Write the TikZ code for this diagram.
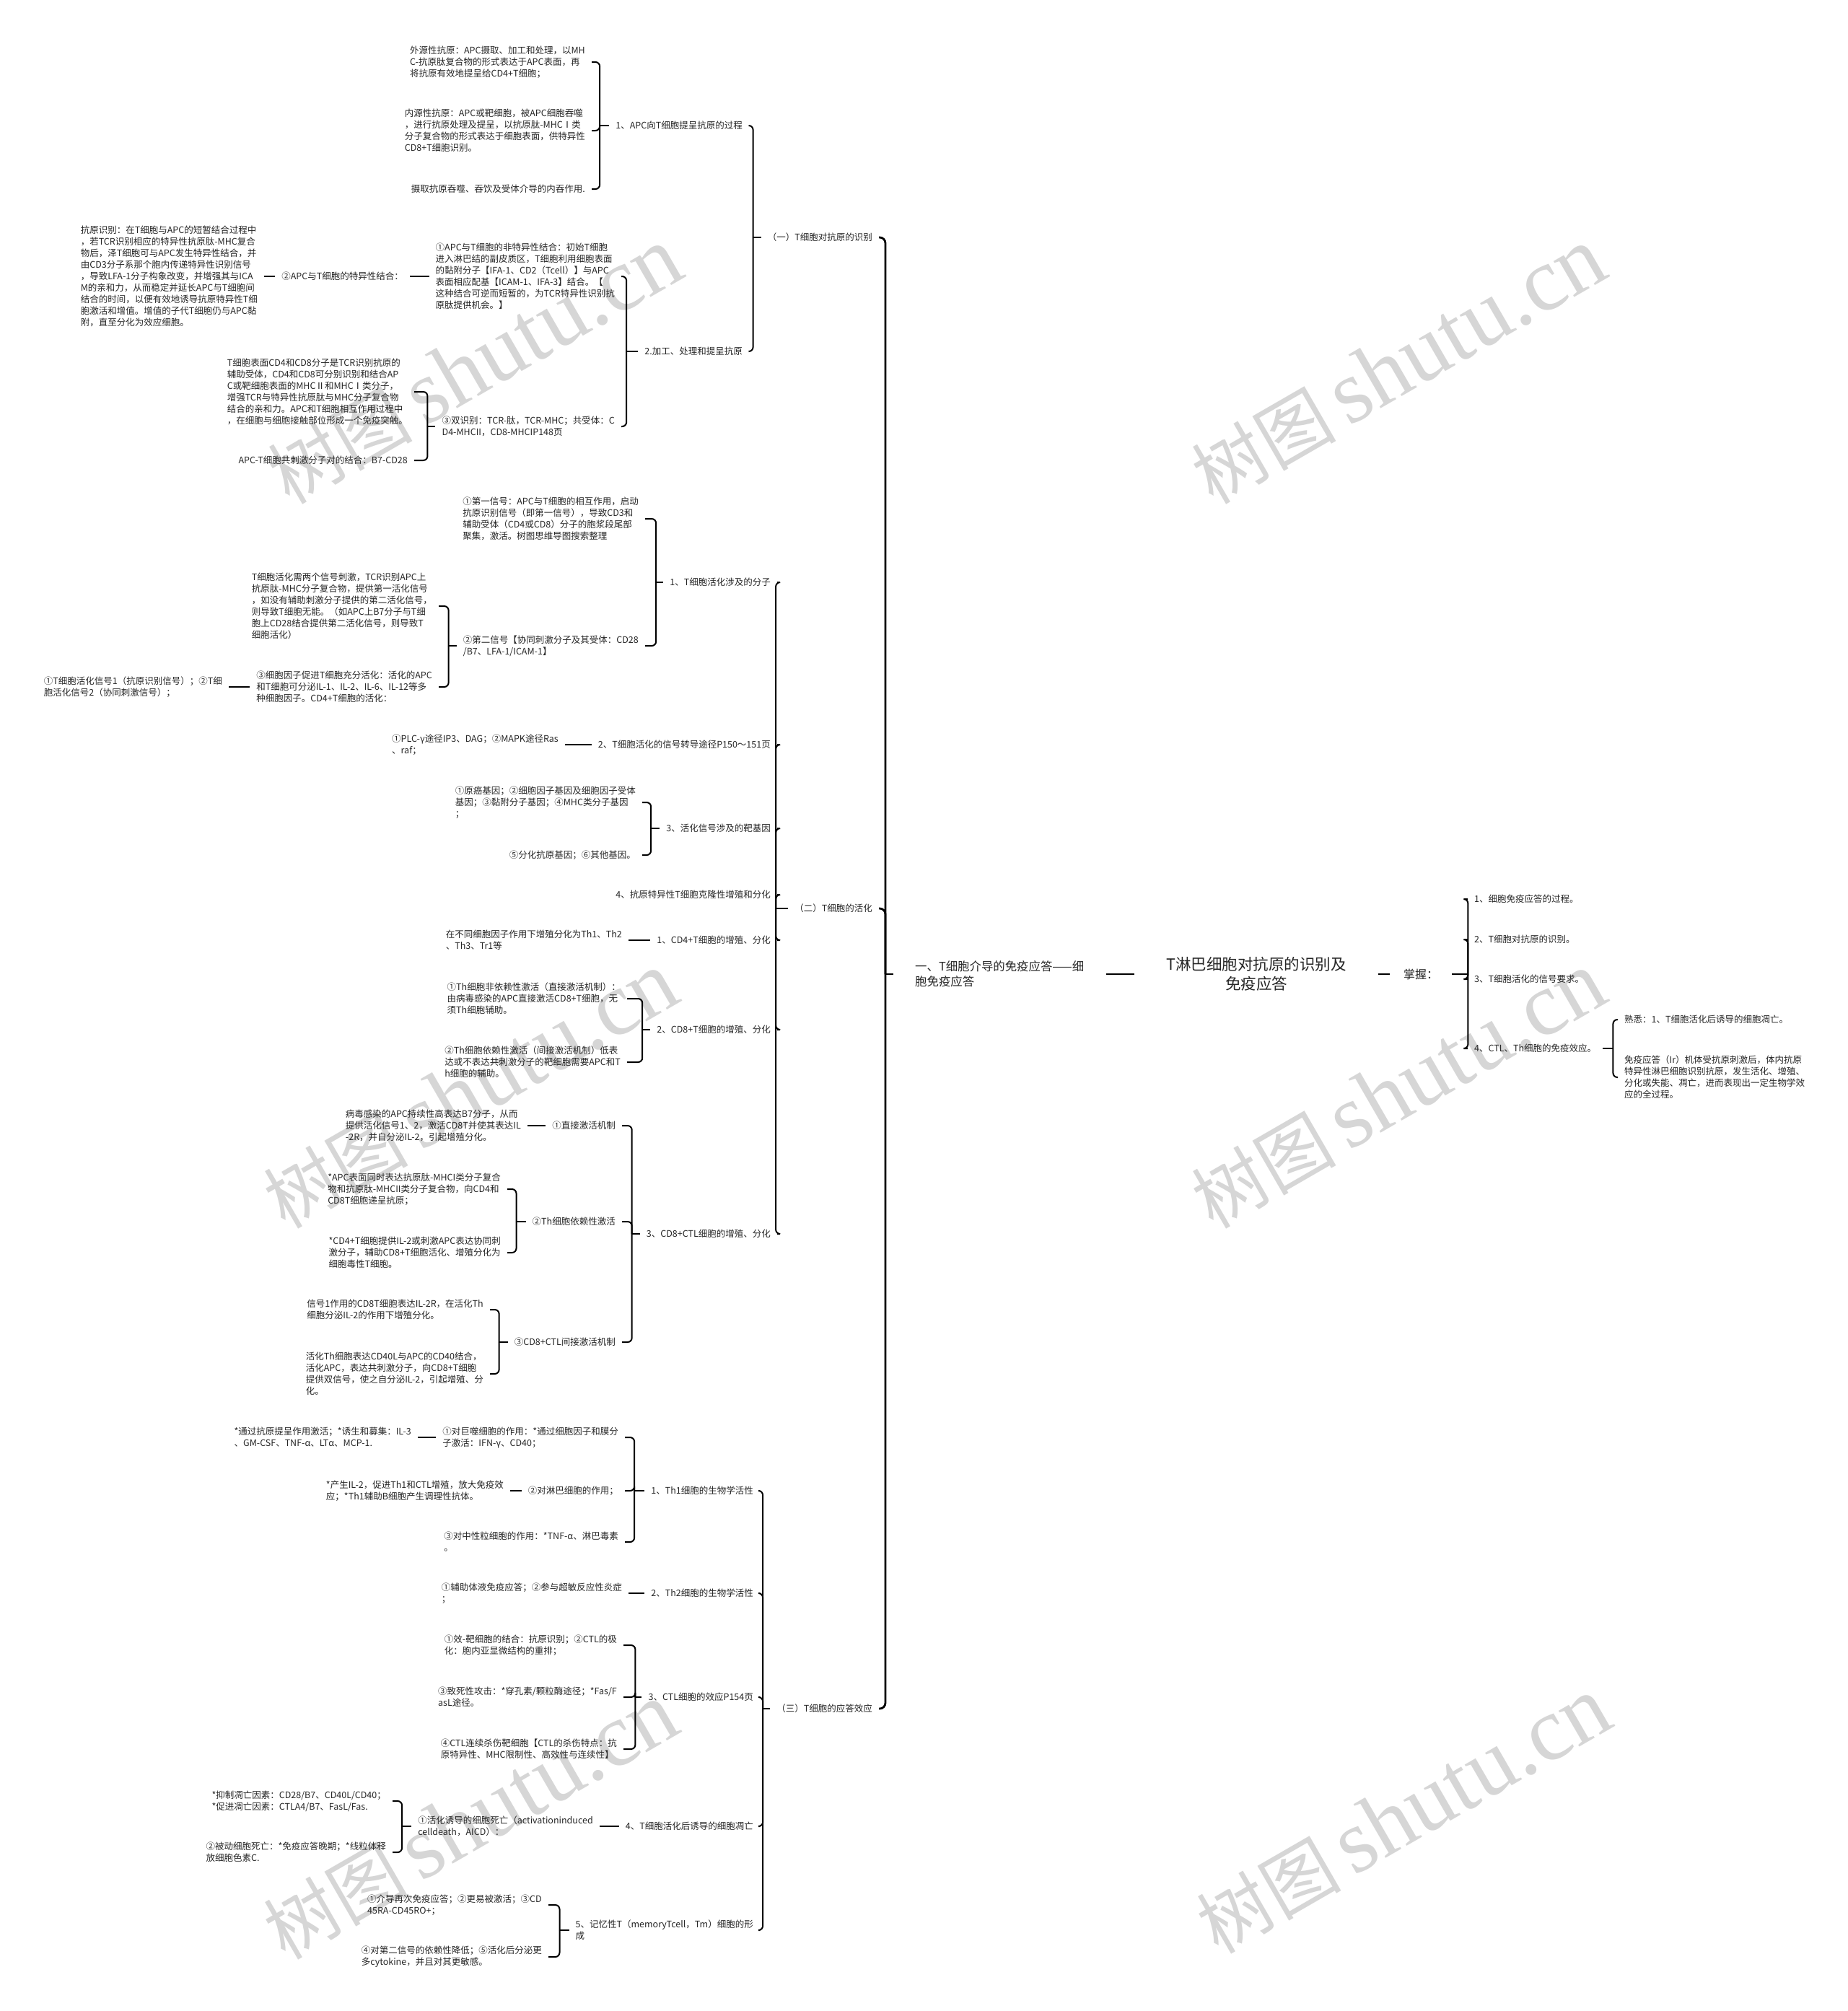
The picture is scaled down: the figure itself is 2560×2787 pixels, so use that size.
\documentclass[tikz,border=0pt]{standalone}
\usepackage{fontspec}
\setmainfont{Noto Sans CJK SC}
\newfontfamily\wmlat{Liberation Serif}
\newcommand{\lk}[3]{\draw[link] (#1.east) -| ([xshift=-#3pt]#2.west); \draw[link] ([xshift=-#3pt]#2.west) -- (#2.west);}
\newcommand{\sk}[2]{\draw[link] (#1.east) -- (#1.east -| #2.west);}
\newcommand{\rk}[3]{\draw[link] (#1.west) -| ([xshift=#3pt]#2.east); \draw[link] ([xshift=#3pt]#2.east) -- (#2.east);}
\newcommand{\mk}[3]{\draw[mainlink] (#1.east) -| ([xshift=-#3pt]#2.west); \draw[mainlink] ([xshift=-#3pt]#2.west) -- (#2.west);}
\newcommand{\wmtext}{\fontsize{100}{100}\selectfont 树图\,{\wmlat\fontsize{125}{125}\selectfont shutu.cn}}
\begin{document}
\begin{tikzpicture}[x=1pt,y=-1pt,
  t/.style={font=\fontsize{12.5}{16}\selectfont, align=left, inner xsep=9pt, inner ysep=1pt, anchor=east, text=black!85},
  tl/.style={t, anchor=west},
  link/.style={line width=2pt, rounded corners=6pt},
  mainlink/.style={line width=2.8pt, rounded corners=8pt},
  wm/.style={rotate=30, text=black!16, inner sep=0pt},
]
\useasboundingbox (0,0) rectangle (2560,2787);
\fill[white] (0,0) rectangle (2560,2787);
% watermarks
\node[wm] (w1) at (658,507) {\wmtext};
\node[wm] (w2) at (1938,507) {\wmtext};
\node[wm] (w3) at (652,1511) {\wmtext};
\node[wm] (w4) at (1938,1511) {\wmtext};
\node[wm] (w5) at (652,2524) {\wmtext};
\node[wm] (w6) at (1945,2516) {\wmtext};

% root and right side
\node[font=\fontsize{21.5}{27}\selectfont, align=center, inner xsep=44pt, text=black!85] (R) at (1741,1350) {T淋巴细胞对抗原的识别及\\免疫应答};
\node[font=\fontsize{16.4}{21}\selectfont, align=left, inner xsep=30pt, anchor=west, text=black!85] (Y) at (1238,1350) {一、T细胞介导的免疫应答——细\\胞免疫应答};
\node[font=\fontsize{16}{20}\selectfont, inner xsep=19pt, anchor=west, text=black!85] (Z) at (1926,1350) {掌握：};
\draw[link] (Y.east) -- (R.west);
\draw[link] (R.east) -- (Z.west);

\node[tl] (R1) at (2034,1246) {1、细胞免疫应答的过程。};
\node[tl] (R2) at (2034,1302) {2、T细胞对抗原的识别。};
\node[tl] (R3) at (2034,1357) {3、T细胞活化的信号要求。};
\node[tl] (R4) at (2034,1453) {4、CTL、Th细胞的免疫效应。};
\node[tl] (R4a) at (2242,1413) {熟悉：1、T细胞活化后诱导的细胞凋亡。};
\node[tl] (R4b) at (2242,1493) {免疫应答（Ir）机体受抗原刺激后，体内抗原\\特异性淋巴细胞识别抗原，发生活化、增殖、\\分化或失能、凋亡，进而表现出一定生物学效\\应的全过程。};
\rk{R1}{Z}{22} \rk{R2}{Z}{22} \rk{R3}{Z}{22} \rk{R4}{Z}{22}
\rk{R4a}{R4}{14} \rk{R4b}{R4}{14}

% level 1
\node[t] (N1) at (1218,329) {（一）T细胞对抗原的识别};
\node[t] (N2) at (1218,1259) {（二）T细胞的活化};
\node[t] (N3) at (1218,2368) {（三）T细胞的应答效应};
\mk{N1}{Y}{11} \mk{N2}{Y}{11} \mk{N3}{Y}{11}

% (一)
\node[t] (A1) at (1038,174) {1、APC向T细胞提呈抗原的过程};
\node[t] (A2) at (1038,487) {2.加工、处理和提呈抗原};
\lk{A1}{N1}{11} \lk{A2}{N1}{11}
\node[t] (A1a) at (820,86) {外源性抗原：APC摄取、加工和处理，以MH\\C-抗原肽复合物的形式表达于APC表面，再\\将抗原有效地提呈给CD4+T细胞；};
\node[t] (A1b) at (820,181) {内源性抗原：APC或靶细胞，被APC细胞吞噬\\，进行抗原处理及提呈，以抗原肽-MHCⅠ类\\分子复合物的形式表达于细胞表面，供特异性\\CD8+T细胞识别。};
\node[t] (A1c) at (820,262) {摄取抗原吞噬、吞饮及受体介导的内吞作用.};
\lk{A1a}{A1}{13} \lk{A1b}{A1}{13} \lk{A1c}{A1}{13}
\node[t] (A2a) at (861,383) {①APC与T细胞的非特异性结合：初始T细胞\\进入淋巴结的副皮质区，T细胞利用细胞表面\\的黏附分子【IFA-1、CD2（Tcell）】与APC\\表面相应配基【ICAM-1、IFA-3】结合。【\\这种结合可逆而短暂的，为TCR特异性识别抗\\原肽提供机会。】};
\node[t] (A2b) at (861,591) {③双识别：TCR-肽，TCR-MHC；共受体：C\\D4-MHCII，CD8-MHCIP148页};
\lk{A2a}{A2}{16} \lk{A2b}{A2}{16}
\node[t] (A2a1) at (568,383) {②APC与T细胞的特异性结合：};
\sk{A2a1}{A2a}
\node[t] (A2a1a) at (366,383) {抗原识别：在T细胞与APC的短暂结合过程中\\，若TCR识别相应的特异性抗原肽-MHC复合\\物后，泽T细胞可与APC发生特异性结合，并\\由CD3分子系那个胞内传递特异性识别信号\\，导致LFA-1分子构象改变，并增强其与ICA\\M的亲和力，从而稳定并延长APC与T细胞间\\结合的时间，以便有效地诱导抗原特异性T细\\胞激活和增值。增值的子代T细胞仍与APC黏\\附，直至分化为效应细胞。};
\sk{A2a1a}{A2a1}
\node[t] (A2b1) at (574,543) {T细胞表面CD4和CD8分子是TCR识别抗原的\\辅助受体，CD4和CD8可分别识别和结合AP\\C或靶细胞表面的MHCⅡ和MHCⅠ类分子，\\增强TCR与特异性抗原肽与MHC分子复合物\\结合的亲和力。APC和T细胞相互作用过程中\\，在细胞与细胞接触部位形成一个免疫突触。};
\node[t] (A2b2) at (574,638) {APC-T细胞共刺激分子对的结合：B7-CD28};
\lk{A2b1}{A2b}{11} \lk{A2b2}{A2b}{11}

% (二)
\node[t] (B1) at (1077,807) {1、T细胞活化涉及的分子};
\node[t] (B2) at (1077,1032) {2、T细胞活化的信号转导途径P150～151页};
\node[t] (B3) at (1077,1148) {3、活化信号涉及的靶基因};
\node[t] (B4) at (1077,1240) {4、抗原特异性T细胞克隆性增殖和分化};
\node[t] (B5) at (1077,1303) {1、CD4+T细胞的增殖、分化};
\node[t] (B6) at (1077,1427) {2、CD8+T细胞的增殖、分化};
\node[t] (B7) at (1077,1710) {3、CD8+CTL细胞的增殖、分化};
\lk{B1}{N2}{17} \lk{B2}{N2}{17} \lk{B3}{N2}{17} \lk{B4}{N2}{17} \lk{B5}{N2}{17} \lk{B6}{N2}{17} \lk{B7}{N2}{17}

\node[t] (B1a) at (894,719) {①第一信号：APC与T细胞的相互作用，启动\\抗原识别信号（即第一信号），导致CD3和\\辅助受体（CD4或CD8）分子的胞浆段尾部\\聚集，激活。树图思维导图搜索整理};
\node[t] (B1b) at (894,895) {②第二信号【协同刺激分子及其受体：CD28\\/B7、LFA-1/ICAM-1】};
\lk{B1a}{B1}{10} \lk{B1b}{B1}{10}
\node[t] (B1b1) at (608,840) {T细胞活化需两个信号刺激，TCR识别APC上\\抗原肽-MHC分子复合物，提供第一活化信号\\，如没有辅助刺激分子提供的第二活化信号，\\则导致T细胞无能。（如APC上B7分子与T细\\胞上CD28结合提供第二活化信号，则导致T\\细胞活化）};
\node[t] (B1b2) at (608,952) {③细胞因子促进T细胞充分活化：活化的APC\\和T细胞可分泌IL-1、IL-2、IL-6、IL-12等多\\种细胞因子。CD4+T细胞的活化：};
\lk{B1b1}{B1b}{11} \lk{B1b2}{B1b}{11}
\node[t] (B1b2a) at (317,952) {①T细胞活化信号1（抗原识别信号）；②T细\\胞活化信号2（协同刺激信号）；};
\sk{B1b2a}{B1b2}

\node[t] (B2a) at (783,1032) {①PLC-γ途径IP3、DAG；②MAPK途径Ras\\、raf；};
\sk{B2a}{B2}

\node[t] (B3a) at (890,1112) {①原癌基因；②细胞因子基因及细胞因子受体\\基因；③黏附分子基因；④MHC类分子基因\\；};
\node[t] (B3b) at (890,1185) {⑤分化抗原基因；⑥其他基因。};
\lk{B3a}{B3}{12} \lk{B3b}{B3}{12}

\node[t] (B5a) at (871,1303) {在不同细胞因子作用下增殖分化为Th1、Th2\\、Th3、Tr1等};
\sk{B5a}{B5}

\node[t] (B6a) at (869,1384) {①Th细胞非依赖性激活（直接激活机制）：\\由病毒感染的APC直接激活CD8+T细胞，无\\须Th细胞辅助。};
\node[t] (B6b) at (869,1472) {②Th细胞依赖性激活（间接激活机制）低表\\达或不表达共刺激分子的靶细胞需要APC和T\\h细胞的辅助。};
\lk{B6a}{B6}{11} \lk{B6b}{B6}{11}

\node[t] (B7a) at (862,1560) {①直接激活机制};
\node[t] (B7b) at (862,1693) {②Th细胞依赖性激活};
\node[t] (B7c) at (862,1860) {③CD8+CTL间接激活机制};
\lk{B7a}{B7}{11} \lk{B7b}{B7}{11} \lk{B7c}{B7}{11}
\node[t] (B7a1) at (731,1560) {病毒感染的APC持续性高表达B7分子，从而\\提供活化信号1、2，激活CD8T并使其表达IL\\-2R，并自分泌IL-2，引起增殖分化。};
\sk{B7a1}{B7a}
\node[t] (B7b1) at (703,1648) {*APC表面同时表达抗原肽-MHCI类分子复合\\物和抗原肽-MHCII类分子复合物，向CD4和\\CD8T细胞递呈抗原；};
\node[t] (B7b2) at (703,1736) {*CD4+T细胞提供IL-2或刺激APC表达协同刺\\激分子，辅助CD8+T细胞活化、增殖分化为\\细胞毒性T细胞。};
\lk{B7b1}{B7b}{13} \lk{B7b2}{B7b}{13}
\node[t] (B7c1) at (679,1815) {信号1作用的CD8T细胞表达IL-2R，在活化Th\\细胞分泌IL-2的作用下增殖分化。};
\node[t] (B7c2) at (679,1904) {活化Th细胞表达CD40L与APC的CD40结合，\\活化APC，表达共刺激分子，向CD8+T细胞\\提供双信号，使之自分泌IL-2，引起增殖、分\\化。};
\lk{B7c1}{B7c}{12} \lk{B7c2}{B7c}{12}

% (三)
\node[t] (C1) at (1053,2066) {1、Th1细胞的生物学活性};
\node[t] (C2) at (1053,2208) {2、Th2细胞的生物学活性};
\node[t] (C3) at (1053,2352) {3、CTL细胞的效应P154页};
\node[t] (C4) at (1053,2531) {4、T细胞活化后诱导的细胞凋亡};
\node[t] (C5) at (1053,2675) {5、记忆性T（memoryTcell，Tm）细胞的形\\成};
\lk{C1}{N3}{10} \lk{C2}{N3}{10} \lk{C3}{N3}{10} \lk{C4}{N3}{10} \lk{C5}{N3}{10}

\node[t] (C1a) at (866,1992) {①对巨噬细胞的作用：*通过细胞因子和膜分\\子激活：IFN-γ、CD40；};
\node[t] (C1b) at (866,2066) {②对淋巴细胞的作用；};
\node[t] (C1c) at (866,2137) {③对中性粒细胞的作用：*TNF-α、淋巴毒素\\。};
\lk{C1a}{C1}{14} \lk{C1b}{C1}{14} \lk{C1c}{C1}{14}
\node[t] (C1a1) at (579,1992) {*通过抗原提呈作用激活；*诱生和募集：IL-3\\、GM-CSF、TNF-α、LTα、MCP-1.};
\sk{C1a1}{C1a}
\node[t] (C1b1) at (707,2066) {*产生IL-2，促进Th1和CTL增殖，放大免疫效\\应；*Th1辅助B细胞产生调理性抗体。};
\sk{C1b1}{C1b}

\node[t] (C2a) at (871,2208) {①辅助体液免疫应答；②参与超敏反应性炎症\\；};
\sk{C2a}{C2}

\node[t] (C3a) at (864,2280) {①效-靶细胞的结合：抗原识别；②CTL的极\\化：胞内亚显微结构的重排；};
\node[t] (C3b) at (864,2352) {③致死性攻击：*穿孔素/颗粒酶途径；*Fas/F\\asL途径。};
\node[t] (C3c) at (864,2424) {④CTL连续杀伤靶细胞【CTL的杀伤特点：抗\\原特异性、MHC限制性、高效性与连续性】};
\lk{C3a}{C3}{9} \lk{C3b}{C3}{9} \lk{C3c}{C3}{9}

\node[t] (C4a) at (831,2531) {①活化诱导的细胞死亡（activationinduced\\celldeath，AICD）：};
\sk{C4a}{C4}
\node[t] (C4a1) at (544,2496) {*抑制凋亡因素：CD28/B7、CD40L/CD40；\\*促进凋亡因素：CTLA4/B7、FasL/Fas.};
\node[t] (C4a2) at (544,2567) {②被动细胞死亡：*免疫应答晚期；*线粒体释\\放细胞色素C.};
\lk{C4a1}{C4a}{13} \lk{C4a2}{C4a}{13}

\node[t] (C5a) at (760,2640) {①介导再次免疫应答；②更易被激活；③CD\\45RA-CD45RO+；};
\node[t] (C5b) at (760,2712) {④对第二信号的依赖性降低；⑤活化后分泌更\\多cytokine，并且对其更敏感。};
\lk{C5a}{C5}{13} \lk{C5b}{C5}{13}
\end{tikzpicture}
\end{document}
